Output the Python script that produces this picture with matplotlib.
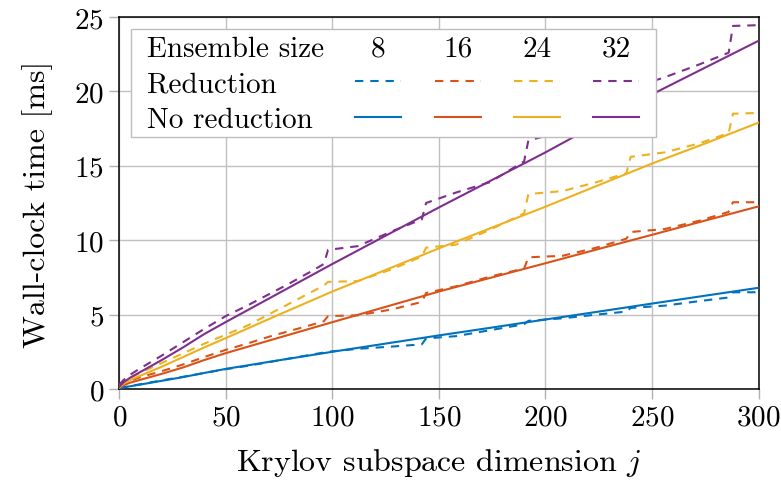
import matplotlib
matplotlib.use("Agg")
import matplotlib.pyplot as plt
from matplotlib.lines import Line2D
from matplotlib.patches import Rectangle

plt.rcParams['font.family'] = 'cmr10'
plt.rcParams['mathtext.fontset'] = 'cm'
plt.rcParams['axes.formatter.use_mathtext'] = True
plt.rcParams['axes.unicode_minus'] = False
plt.rcParams['lines.scale_dashes'] = False

# ensemble sizes and colours
ensemble_sizes = [8, 16, 24, 32]
colors = ['#0072BD', '#D95319', '#EDB120', '#7E2F8E']

# No reduction (solid)
j_full = [0, 2, 5, 10, 20, 30, 40, 50, 75, 100, 125, 150, 175, 200, 225, 250, 275, 300]
t_full_8 = [0.03, 0.1, 0.18, 0.3, 0.55, 0.8, 1.08, 1.35, 1.93, 2.5, 3.05, 3.6, 4.13, 4.67, 5.2, 5.74, 6.27, 6.8]
t_full_16 = [0.08, 0.25, 0.42, 0.62, 1.02, 1.45, 1.95, 2.41, 3.45, 4.49, 5.52, 6.55, 7.5, 8.45, 9.41, 10.36, 11.32, 12.27]
t_full_24 = [0.1, 0.35, 0.6, 0.9, 1.5, 2.15, 2.8, 3.42, 5.0, 6.55, 8.0, 9.45, 10.85, 12.25, 13.7, 15.15, 16.5, 17.9]
t_full_32 = [0.15, 0.45, 0.75, 1.15, 1.95, 2.8, 3.7, 4.5, 6.45, 8.4, 10.3, 12.2, 14.05, 15.9, 17.85, 19.8, 21.6, 23.4]

# Reduction (dashed)
j_red = [0, 2, 5, 10, 20, 30, 40, 50, 60, 70, 80, 90, 96, 98, 112, 128, 142, 144,
         158, 174, 190, 192, 208, 224, 238, 240, 256, 272, 286, 288, 300]
t_red_8 = [0.05, 0.12, 0.2, 0.32, 0.58, 0.82, 1.08, 1.33, 1.55, 1.8, 2.05, 2.3, 2.45, 2.5, 2.7, 2.85, 3.0, 3.4,
           3.55, 3.95, 4.35, 4.58, 4.75, 5.0, 5.2, 5.45, 5.6, 5.9, 6.15, 6.5, 6.5]
t_red_16 = [0.15, 0.35, 0.55, 0.8, 1.2, 1.65, 2.15, 2.63, 3.05, 3.5, 3.9, 4.3, 4.55, 4.9, 4.95, 5.35, 5.85, 6.45,
            6.9, 7.55, 8.1, 8.85, 8.95, 9.5, 10.1, 10.55, 10.75, 11.3, 11.9, 12.55, 12.55]
t_red_24 = [0.2, 0.45, 0.75, 1.1, 1.75, 2.4, 3.05, 3.65, 4.25, 5.0, 5.75, 6.5, 6.95, 7.2, 7.25, 8.05, 8.9, 9.5,
            9.7, 10.7, 11.8, 13.1, 13.3, 13.9, 14.5, 15.6, 15.9, 16.5, 17.2, 18.5, 18.55]
t_red_32 = [0.3, 0.6, 0.95, 1.4, 2.25, 3.15, 4.05, 4.9, 5.6, 6.35, 7.1, 7.9, 8.4, 9.35, 9.6, 10.6, 11.4, 12.5,
            13.2, 13.9, 15.3, 16.7, 17.3, 18.3, 19.2, 20.2, 20.95, 21.8, 22.6, 24.4, 24.45]

t_full = [t_full_8, t_full_16, t_full_24, t_full_32]
t_red = [t_red_8, t_red_16, t_red_24, t_red_32]

fig = plt.figure(figsize=(7.81, 4.89), dpi=100)
ax = fig.add_axes([0.1527, 0.2025, 0.8185, 0.7607])

DASH = (0, (6, 5))
LW = 1.5

for c, tr in zip(colors, t_red):
    ax.plot(j_red, tr, color=c, lw=LW, linestyle=DASH, zorder=3)
for c, tf in zip(colors, t_full):
    ax.plot(j_full, tf, color=c, lw=LW, zorder=4)

ax.set_xlim(0, 300)
ax.set_ylim(0, 25)
ax.set_xticks([0, 50, 100, 150, 200, 250, 300])
ax.set_yticks([0, 5, 10, 15, 20, 25])
ax.grid(True, color='#c0c0c0', lw=1.0)
ax.set_axisbelow(True)
for s in ax.spines.values():
    s.set_color('black')
    s.set_linewidth(1.1)
ax.tick_params(axis='both', labelsize=21, length=7, width=1.0, color='#b0b0b0', pad=4)
ax.set_xlabel(r'Krylov subspace dimension $j$', fontsize=23, labelpad=11)
ax.set_ylabel('Wall-clock time [ms]', fontsize=23, labelpad=15)


# legend table, placed by pixel positions of the reference
def px(x, y):
    return ((x - 119.3) / 639.2, (390 - y) / 372.0)


x0, y0 = px(131, 138)
x1, y1 = px(656, 30)
ax.add_patch(Rectangle((x0, y0), x1 - x0, y1 - y0, transform=ax.transAxes,
                       facecolor='white', edgecolor='#bdbdbd', lw=1.0, zorder=10, clip_on=False))

rows = [('Ensemble size', 46.7), ('Reduction', 82), ('No reduction', 118.3)]
for label, yy in rows:
    tx, ty = px(146.7, yy)
    ax.text(tx, ty, label, transform=ax.transAxes, fontsize=21, ha='left', va='center_baseline', zorder=11)

starts = [355, 435, 514, 593]
for n, c, sx in zip(ensemble_sizes, colors, starts):
    tx, ty = px(sx + 23, 46.7)
    ax.text(tx, ty, str(n), transform=ax.transAxes, fontsize=21, ha='center', va='center_baseline', zorder=11)
    a, b = px(sx, 81.7)
    e, _ = px(sx + 46, 81.7)
    ax.add_line(Line2D([a, e], [b, b], transform=ax.transAxes, color=c, lw=LW, linestyle=DASH, zorder=11))
    a, b = px(sx, 118.3)
    e, _ = px(sx + 46, 118.3)
    ax.add_line(Line2D([a, e], [b, b], transform=ax.transAxes, color=c, lw=LW, zorder=11))

fig.savefig('out.png', dpi=100)
